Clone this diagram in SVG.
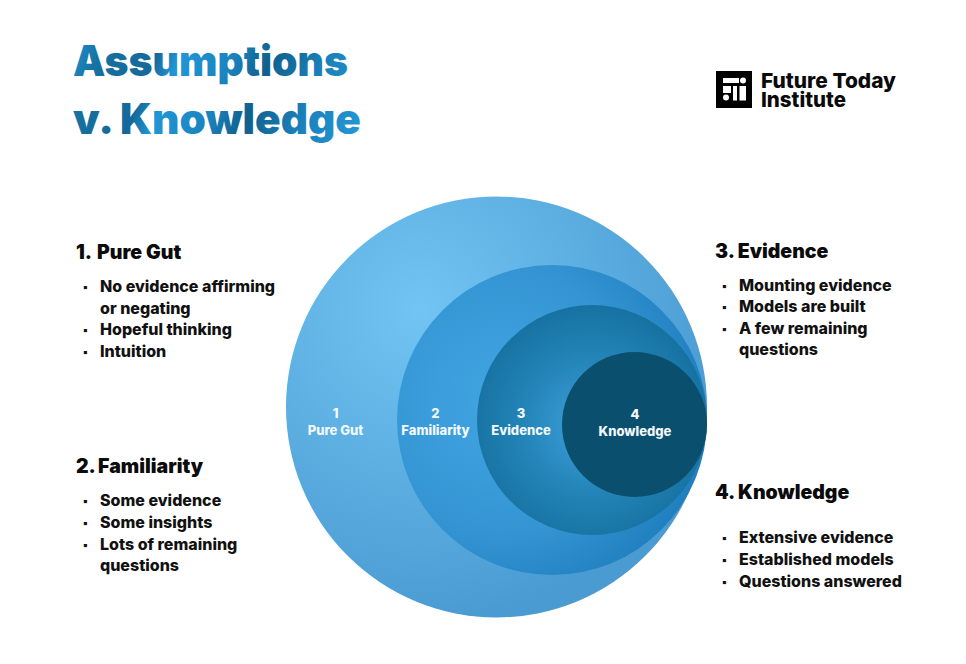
<svg xmlns="http://www.w3.org/2000/svg" width="966" height="664" viewBox="0 0 966 664">
<style>
text{font-family:"Inter","Liberation Sans",sans-serif}
.h{font-size:19.5px;font-weight:900;fill:#0b0b0b}
.b{font-size:16px;font-weight:800;fill:#111}
.p{font-size:11px;font-weight:800;fill:#111}
.t{font-size:42px;font-weight:900;fill:url(#tg)}
.c{font-size:13px;font-weight:800;fill:#f2f8fc;text-anchor:middle}
.l{font-size:20.5px;font-weight:800;fill:#0a0a0a}
.w{fill:#fff}
</style>
<defs>
<linearGradient id="tg" gradientUnits="userSpaceOnUse" x1="74" y1="40" x2="360" y2="150">
<stop offset="0" stop-color="#1f8fcd"/><stop offset=".1" stop-color="#15719f"/><stop offset=".27" stop-color="#15699a"/><stop offset=".34" stop-color="#2196d6"/><stop offset=".5" stop-color="#1a84bf"/><stop offset=".62" stop-color="#10608c"/><stop offset=".78" stop-color="#1a7fb8"/><stop offset="1" stop-color="#249ad8"/>
</linearGradient>
<radialGradient id="g1" gradientUnits="userSpaceOnUse" cx="420" cy="310" r="310">
<stop offset="0" stop-color="#72c4f3"/><stop offset=".55" stop-color="#5caee1"/><stop offset="1" stop-color="#4a9bd2"/>
</radialGradient>
<radialGradient id="g2" gradientUnits="userSpaceOnUse" cx="500" cy="400" r="220">
<stop offset="0" stop-color="#41a5e2"/><stop offset=".6" stop-color="#3595d4"/><stop offset="1" stop-color="#1d7cbb"/>
</radialGradient>
<radialGradient id="g3" gradientUnits="userSpaceOnUse" cx="590" cy="425" r="125">
<stop offset="0" stop-color="#3da2dd"/><stop offset=".5" stop-color="#2586ba"/><stop offset="1" stop-color="#15709f"/>
</radialGradient>
</defs>
<rect width="966" height="664" fill="#fff"/>
<g id="title">
<text class="t" x="73" y="76" textLength="275" lengthAdjust="spacingAndGlyphs">Assumptions</text>
<text class="t" x="73" y="134" textLength="288" lengthAdjust="spacingAndGlyphs">v. Knowledge</text>
</g>
<g id="logo">
<rect x="716" y="71" width="36" height="37" fill="#000"/>
<rect class="w" x="723" y="78" width="16" height="5"/>
<circle class="w" cx="743" cy="80.500" r="3"/>
<rect class="w" x="723" y="86" width="8" height="7"/>
<rect class="w" x="733" y="86" width="4" height="14.500"/>
<rect class="w" x="739.500" y="86" width="6.500" height="14.500"/>
<circle class="w" cx="726" cy="97.500" r="3"/>
<text class="l" x="761" y="88" textLength="135" lengthAdjust="spacingAndGlyphs">Future Today</text>
<text class="l" x="761" y="107" textLength="85" lengthAdjust="spacingAndGlyphs">Institute</text>
</g>
<g id="circles">
<g id="c1"><circle cx="496.500" cy="407" r="210.500" fill="url(#g1)"/><text class="c" x="335.500" y="418">1</text><text class="c" x="335.500" y="435">Pure Gut</text></g>
<g id="c2"><circle cx="552" cy="420" r="155" fill="url(#g2)"/><text class="c" x="435.500" y="418">2</text><text class="c" x="435.500" y="435">Familiarity</text></g>
<g id="c3"><circle cx="592" cy="420" r="115" fill="url(#g3)"/><text class="c" x="521" y="418">3</text><text class="c" x="521" y="435">Evidence</text></g>
<g id="c4"><circle cx="634.500" cy="424.500" r="72.500" fill="#0b4f6e"/><text class="c" x="635" y="419">4</text><text class="c" x="635" y="436">Knowledge</text></g>
</g>
<g id="n1">
<text class="h" x="76" y="259">1. <tspan x="97">Pure Gut</tspan></text>
<text class="p" x="83" y="291">▪</text><text class="b" x="100" y="292">No evidence affirming</text>
<text class="b" x="100" y="314">or negating</text>
<text class="p" x="83" y="334">▪</text><text class="b" x="100" y="335">Hopeful thinking</text>
<text class="p" x="83" y="356">▪</text><text class="b" x="100" y="357">Intuition</text>
</g>
<g id="n2">
<text class="h" x="76" y="473">2. <tspan x="98">Familiarity</tspan></text>
<text class="p" x="83" y="505">▪</text><text class="b" x="100" y="506">Some evidence</text>
<text class="p" x="83" y="527">▪</text><text class="b" x="100" y="528">Some insights</text>
<text class="p" x="83" y="549">▪</text><text class="b" x="100" y="550">Lots of remaining</text>
<text class="b" x="100" y="571">questions</text>
</g>
<g id="n3">
<text class="h" x="715" y="258">3. Evidence</text>
<text class="p" x="722" y="290">▪</text><text class="b" x="739" y="291">Mounting evidence</text>
<text class="p" x="722" y="311">▪</text><text class="b" x="739" y="312">Models are built</text>
<text class="p" x="722" y="333">▪</text><text class="b" x="739" y="334">A few remaining</text>
<text class="b" x="739" y="355">questions</text>
</g>
<g id="n4">
<text class="h" x="715" y="499">4. Knowledge</text>
<text class="p" x="722" y="542">▪</text><text class="b" x="739" y="543">Extensive evidence</text>
<text class="p" x="722" y="564">▪</text><text class="b" x="739" y="565">Established models</text>
<text class="p" x="722" y="586">▪</text><text class="b" x="739" y="587">Questions answered</text>
</g>
</svg>
